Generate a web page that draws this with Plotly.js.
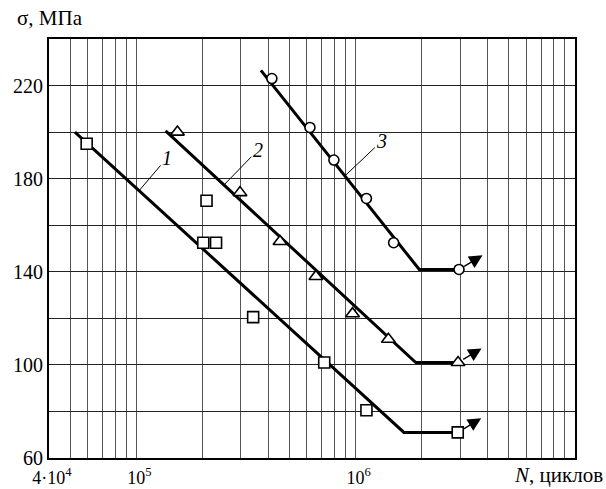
<!DOCTYPE html>
<html>
<head>
<meta charset="utf-8">
<script src="https://cdn.plot.ly/plotly-3.0.1.min.js"></script>
<style>html,body{margin:0;padding:0;background:#fff;}#chart{width:606px;height:489px;}</style>
</head>
<body>
<div id="chart"></div>
<script>
// Experimental points (N cycles, stress MPa)
const N1 = [5.94e4, 2.09e5, 2.02e5, 2.31e5, 3.41e5, 7.19e5, 1.12e6, 2.92e6];
const S1 = [195, 170.5, 152.5, 152.5, 120.5, 101, 80.5, 71];
const N2 = [1.54e5, 2.97e5, 4.52e5, 6.59e5, 9.68e5, 1.41e6, 2.93e6];
const S2 = [200, 174, 153, 138, 122, 111, 101];
const N3 = [4.15e5, 6.19e5, 7.96e5, 1.12e6, 1.49e6, 2.96e6];
const S3 = [223, 202, 188, 171.5, 152.5, 141];
// Fitted fatigue curves
const L1N = [5.25e4, 1.66e6, 2.92e6];
const L1S = [200, 71, 71];
const L2N = [1.36e5, 1.88e6, 2.93e6];
const L2S = [200.5, 101, 101];
const L3N = [3.7e5, 1.95e6, 2.96e6];
const L3S = [226.5, 141, 141];
// Curve labels and where their leaders touch the curves
const curveLabels = ['1', '2', '3'];
const labelN = [1.03e5, 2.51e5, 8.93e5];
// Axis ticks
const xTickVals = [4e4,5e4,6e4,7e4,8e4,9e4,1e5,2e5,3e5,4e5,5e5,6e5,7e5,8e5,9e5,1e6,2e6,3e6,4e6,5e6,6e6,7e6,8e6,9e6,1e7];
const xTickText = ['4·10<sup>4</sup>','','','','','','10<sup>5</sup>','','','','','','','','','10<sup>6</sup>','','','','','','','','',''];
const yTickVals = [60,80,100,120,140,160,180,200,220,240];
const yTickText = ['60','','100','','140','','180','','220',''];

const font = 'Liberation Serif, Times New Roman, serif';

function interpLog(Ns, Ss, n) {
  const x = Math.log10(n);
  for (let i = 0; i < Ns.length - 1; i++) {
    const a = Math.log10(Ns[i]), b = Math.log10(Ns[i+1]);
    if (x >= a && x <= b) return Ss[i] + (Ss[i+1]-Ss[i])*(x-a)/(b-a);
  }
  return Ss[Ss.length-1];
}

const lineStyle = {color:'#000', width:3};
const traces = [
  {x:L1N, y:L1S, mode:'lines', line:lineStyle, hoverinfo:'skip'},
  {x:L2N, y:L2S, mode:'lines', line:lineStyle, hoverinfo:'skip'},
  {x:L3N, y:L3S, mode:'lines', line:lineStyle, hoverinfo:'skip'},
  {x:N1, y:S1, mode:'markers', marker:{symbol:'square', size:11, color:'#fff', line:{color:'#000', width:1.6}}},
  {x:N2, y:S2, mode:'markers', marker:{symbol:'triangle-up', size:12, color:'#fff', line:{color:'#000', width:1.6}}},
  {x:N3, y:S3, mode:'markers', marker:{symbol:'circle', size:10, color:'#fff', line:{color:'#000', width:1.6}}}
];

const lines = [[L1N,L1S],[L2N,L2S],[L3N,L3S]];
const labelOffsets = [[28,-33],[34,-35],[37,-35]];
const annotations = [];
curveLabels.forEach((t, i) => {
  annotations.push({
    x: Math.log10(labelN[i]), y: interpLog(lines[i][0], lines[i][1], labelN[i]),
    xref:'x', yref:'y', text:'<i>'+t+'</i>', showarrow:true, arrowhead:0, arrowwidth:1,
    arrowcolor:'#000', ax:labelOffsets[i][0], ay:labelOffsets[i][1],
    font:{family:font, size:20, color:'#000'}
  });
});
// run-out arrows from the last point of each series
[[N1,S1],[N2,S2],[N3,S3]].forEach(s => {
  const n = s[0][s[0].length-1], v = s[1][s[1].length-1];
  annotations.push({
    x: Math.log10(n), y: v, xref:'x', yref:'y', text:'', showarrow:true,
    arrowside:'start', startarrowhead:2, startarrowsize:1.9, arrowwidth:1.4, arrowcolor:'#000',
    standoff:6, ax:25, ay:-15
  });
});
annotations.push({xref:'paper', yref:'paper', x:-0.064, y:1.05, xanchor:'left', yanchor:'middle',
  text:'σ, МПа', showarrow:false, font:{family:font, size:21, color:'#000'}});
annotations.push({xref:'paper', yref:'paper', x:1.057, y:-0.04, xanchor:'right', yanchor:'middle',
  text:'<i>N</i>, циклов', showarrow:false, font:{family:font, size:21, color:'#000'}});

const layout = {
  width:606, height:489,
  margin:{l:49, r:31, t:39, b:31},
  paper_bgcolor:'#fff', plot_bgcolor:'#fff',
  showlegend:false,
  font:{family:font, color:'#000'},
  xaxis:{type:'log', range:[Math.log10(4e4), 7], tickvals:xTickVals, ticktext:xTickText,
    showgrid:true, gridcolor:'#555', gridwidth:1, showline:true, linecolor:'#000', linewidth:2,
    mirror:true, ticks:'', zeroline:false, ticklabelstandoff:2, ticklabelshift:3,
    tickfont:{family:font, size:18, color:'#000'}},
  yaxis:{range:[60,240], tickvals:yTickVals, ticktext:yTickText,
    showgrid:true, gridcolor:'#222', gridwidth:1, showline:true, linecolor:'#000', linewidth:2,
    mirror:true, ticks:'', zeroline:false,
    tickfont:{family:font, size:20, color:'#000'}},
  annotations:annotations
};

Plotly.newPlot('chart', traces, layout, {displayModeBar:false, staticPlot:true});
</script>
</body>
</html>
